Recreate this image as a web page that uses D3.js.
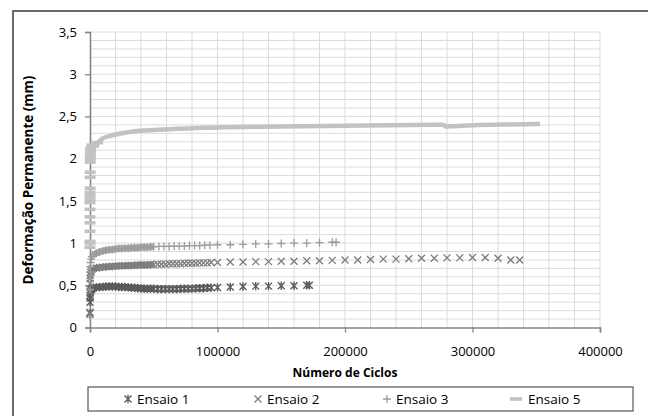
<!DOCTYPE html>
<html>
<head>
<meta charset="utf-8">
<script src="https://cdn.jsdelivr.net/npm/d3@7"></script>
<style>
  body { margin: 0; background: #fff; }
  text { font-family: "Open Sans", "Noto Sans", sans-serif; fill: #000; }
</style>
</head>
<body>
<div id="grafico"></div>
<script>
// Ensaio 1
var ciclos1 = [1, 20, 60, 120, 250, 500, 900, 1500, 2500,
  5000, 7500, 10000, 12500, 15000, 17500, 20000, 22500, 25000, 27500, 30000,
  32500, 35000, 37500, 40000, 42500, 45000, 47500, 50000,
  53000, 56000, 59000, 62000, 65000, 68000, 71000, 74000, 77000, 80000, 83000, 86000, 89000, 92000, 95000,
  100000, 110000, 120000, 130000, 140000, 150000, 160000, 170000, 172000];
var def1 = [0.17, 0.30, 0.35, 0.38, 0.41, 0.43, 0.45, 0.46, 0.47,
  0.475, 0.48, 0.48, 0.485, 0.485, 0.485, 0.485, 0.48, 0.48, 0.48, 0.475,
  0.47, 0.47, 0.465, 0.465, 0.46, 0.46, 0.46, 0.46,
  0.455, 0.455, 0.455, 0.455, 0.455, 0.455, 0.46, 0.46, 0.46, 0.46, 0.465, 0.465, 0.465, 0.47, 0.47,
  0.475, 0.48, 0.485, 0.49, 0.49, 0.495, 0.495, 0.50, 0.50];

// Ensaio 2
var ciclos2 = [1, 20, 60, 120, 250, 500, 900, 1500, 2500,
  5000, 7500, 10000, 12500, 15000, 17500, 20000, 22500, 25000, 27500, 30000,
  32500, 35000, 37500, 40000, 42500, 45000, 47500, 50000,
  53000, 56000, 59000, 62000, 65000, 68000, 71000, 74000, 77000, 80000, 83000, 86000, 89000, 92000, 95000,
  100000, 110000, 120000, 130000, 140000, 150000, 160000, 170000, 180000, 190000, 200000,
  210000, 220000, 230000, 240000, 250000, 260000, 270000, 280000, 290000, 300000, 310000,
  320000, 330000, 337000];
var def2 = [0.18, 0.42, 0.52, 0.58, 0.62, 0.65, 0.67, 0.69, 0.70,
  0.705, 0.71, 0.715, 0.72, 0.72, 0.725, 0.725, 0.73, 0.73, 0.73, 0.735,
  0.735, 0.735, 0.74, 0.74, 0.74, 0.74, 0.745, 0.745,
  0.75, 0.75, 0.75, 0.755, 0.755, 0.755, 0.755, 0.76, 0.76, 0.76, 0.76, 0.765, 0.765, 0.765, 0.77,
  0.77, 0.775, 0.775, 0.78, 0.78, 0.785, 0.785, 0.79, 0.79, 0.795, 0.80,
  0.80, 0.805, 0.81, 0.81, 0.815, 0.82, 0.82, 0.825, 0.825, 0.83, 0.83,
  0.82, 0.80, 0.80];

// Ensaio 3
var ciclos3 = [1, 20, 60, 120, 250, 500, 900, 1500, 2500,
  5000, 7500, 10000, 12500, 15000, 17500, 20000, 22500, 25000, 27500, 30000,
  32500, 35000, 37500, 40000, 42500, 45000, 47500, 50000,
  54000, 58000, 62000, 66000, 70000, 74000, 78000, 82000, 86000, 90000, 94000,
  100000, 110000, 120000, 130000, 140000, 150000, 160000, 170000, 180000, 190000, 193000];
var def3 = [0.12, 0.45, 0.58, 0.66, 0.72, 0.77, 0.81, 0.84, 0.86,
  0.88, 0.895, 0.905, 0.915, 0.92, 0.925, 0.93, 0.935, 0.935, 0.94, 0.94,
  0.945, 0.945, 0.945, 0.95, 0.95, 0.95, 0.955, 0.955,
  0.96, 0.96, 0.96, 0.965, 0.965, 0.965, 0.97, 0.97, 0.97, 0.975, 0.975,
  0.98, 0.98, 0.985, 0.99, 0.99, 0.995, 1.0, 1.0, 1.005, 1.01, 1.01];

// Ensaio 5 - primeiros ciclos (marcadores soltos no eixo)
var ciclos5ini = [1, 3, 6, 10, 15, 20, 30, 40, 50, 60, 80, 100, 130, 160, 200, 250, 300, 400];
var def5ini = [0.95, 1.0, 1.02, 1.14, 1.24, 1.31, 1.40, 1.48, 1.52, 1.56, 1.60, 1.65, 1.78, 1.84, 1.96, 2.0, 2.04, 2.08];
// Ensaio 5 - curva
var ciclos5 = [500, 1500, 3000, 6000, 10000, 16000, 25000, 35000, 50000, 70000, 100000, 150000,
  200000, 270000, 277000, 279000, 285000, 300000, 330000, 353000];
var def5 = [2.12, 2.16, 2.15, 2.19, 2.24, 2.27, 2.30, 2.325, 2.34, 2.355, 2.37, 2.38,
  2.39, 2.40, 2.40, 2.38, 2.385, 2.395, 2.405, 2.41];

var yTicks = [0, 0.5, 1, 1.5, 2, 2.5, 3, 3.5];
var xTicks = [0, 100000, 200000, 300000, 400000];
var legendas = ["Ensaio 1", "Ensaio 2", "Ensaio 3", "Ensaio 5"];

var width = 648, height = 416;
var svg = d3.select("#grafico").append("svg")
  .attr("width", width)
  .attr("height", height);

svg.append("rect").attr("width", width).attr("height", height).attr("fill", "#fff");
// borda externa
svg.append("rect")
  .attr("x", 13).attr("y", 11)
  .attr("width", 660).attr("height", 430)
  .attr("fill", "none").attr("stroke", "#3a3a3a").attr("stroke-width", 1.5);

var x = d3.scaleLinear().domain([0, 400000]).range([90, 600]);
var y = d3.scaleLinear().domain([0, 3.5]).range([327.5, 32]);

// grade
var grade = svg.append("g");
grade.selectAll(".gh").data(y.ticks(35).filter(function(d){ return d > 0; }))
  .enter().append("line")
  .attr("x1", 90).attr("x2", 600)
  .attr("y1", function(d){ return y(d); }).attr("y2", function(d){ return y(d); })
  .attr("stroke", "#dcdcdc").attr("stroke-width", 1);
grade.selectAll(".gv").data(x.ticks(20).filter(function(d){ return d > 0; }))
  .enter().append("line")
  .attr("y1", 32).attr("y2", 327.5)
  .attr("x1", function(d){ return x(d); }).attr("x2", function(d){ return x(d); })
  .attr("stroke", "#dcdcdc").attr("stroke-width", 1);

// eixos
var eixoY = svg.append("g")
  .attr("transform", "translate(90,0)")
  .call(d3.axisLeft(y).tickValues(yTicks).tickSize(5).tickPadding(8)
    .tickFormat(function(d){ return String(d).replace(".", ","); }));
var eixoX = svg.append("g")
  .attr("transform", "translate(0,327.5)")
  .call(d3.axisBottom(x).tickValues(xTicks).tickSize(5).tickPadding(14)
    .tickFormat(d3.format("d")));
[eixoY, eixoX].forEach(function(e){
  e.select(".domain").attr("stroke", "#868686").attr("stroke-width", 1.6);
  e.selectAll(".tick line").attr("stroke", "#868686").attr("stroke-width", 1.3);
  e.selectAll("text").attr("font-size", 13).attr("fill", "#000")
    .style("font-family", '"Open Sans", sans-serif');
});

// marcadores
var simbolos = {
  asterisco: "M-3.5,-3.5L3.5,3.5M-3.5,3.5L3.5,-3.5M0,-4.2L0,4.2",
  xis: "M-3.5,-3.5L3.5,3.5M-3.5,3.5L3.5,-3.5",
  mais: "M-4,0L4,0M0,-4L0,4"
};
var cores = ["#5a5a5a", "#7c7c7c", "#9c9c9c", "#c2c2c2"];

function pontos(cic, def) {
  return cic.map(function(c, i){ return { c: c, d: def[i] }; });
}

var linha = d3.line().x(function(p){ return x(p.c); }).y(function(p){ return y(p.d); });

function desenhaSerie(dados, simbolo, cor, esp) {
  // trecho denso (ate 50000 ciclos): os marcadores se sobrepoem e formam uma faixa
  var denso = dados.filter(function(p){ return p.c >= 2500 && p.c <= 50000; });
  svg.append("path").datum(denso)
    .attr("d", linha)
    .attr("fill", "none").attr("stroke", cor).attr("stroke-width", 6.5).attr("stroke-opacity", 0.9);
  svg.append("g").selectAll("path").data(dados).enter().append("path")
    .attr("d", simbolo)
    .attr("transform", function(p){ return "translate(" + x(p.c) + "," + y(p.d) + ")"; })
    .attr("fill", "none").attr("stroke", cor).attr("stroke-width", esp);
}

desenhaSerie(pontos(ciclos1, def1), simbolos.asterisco, cores[0], 1.4);
desenhaSerie(pontos(ciclos2, def2), simbolos.xis, cores[1], 1.3);
desenhaSerie(pontos(ciclos3, def3), simbolos.mais, cores[2], 1.3);

// Ensaio 5: curva continua + tracos
var curva5 = pontos(ciclos5, def5);
svg.append("path")
  .datum(curva5)
  .attr("d", d3.line().x(function(p){ return x(p.c); }).y(function(p){ return y(p.d); }).curve(d3.curveMonotoneX))
  .attr("fill", "none").attr("stroke", cores[3]).attr("stroke-width", 4.5);
svg.append("g").selectAll("rect").data(pontos(ciclos5ini, def5ini).concat(curva5.slice(0, 4)))
  .enter().append("rect")
  .attr("x", function(p){ return x(p.c) - 5.5; })
  .attr("y", function(p){ return y(p.d) - 1.8; })
  .attr("width", 11).attr("height", 3.6)
  .attr("fill", cores[3]);

// titulos dos eixos
svg.append("text")
  .attr("transform", "translate(33,180) rotate(-90)")
  .attr("text-anchor", "middle")
  .attr("font-size", 13.5).attr("font-weight", "bold")
  .text("Deformação Permanente (mm)");
svg.append("text")
  .attr("x", 345).attr("y", 377)
  .attr("text-anchor", "middle")
  .attr("font-size", 12).attr("font-weight", "bold")
  .text("Número de Ciclos");

// legenda
var leg = svg.append("g");
leg.append("rect")
  .attr("x", 88).attr("y", 387).attr("width", 545).attr("height", 24)
  .attr("fill", "#fff").attr("stroke", "#555").attr("stroke-width", 1.2);
var legX = [128, 258, 387, 516];
var legSimb = [simbolos.asterisco, simbolos.xis, simbolos.mais, null];
legendas.forEach(function(nome, i){
  if (legSimb[i]) {
    leg.append("path").attr("d", legSimb[i])
      .attr("transform", "translate(" + legX[i] + ",399)")
      .attr("fill", "none").attr("stroke", cores[i]).attr("stroke-width", 1.3);
  } else {
    leg.append("rect").attr("x", legX[i] - 6).attr("y", 397.2)
      .attr("width", 12).attr("height", 3.6).attr("fill", cores[i]);
  }
  leg.append("text")
    .attr("x", legX[i] + (legSimb[i] ? 9 : 12)).attr("y", 404)
    .attr("font-size", 13.5)
    .text(nome);
});
</script>
</body>
</html>
